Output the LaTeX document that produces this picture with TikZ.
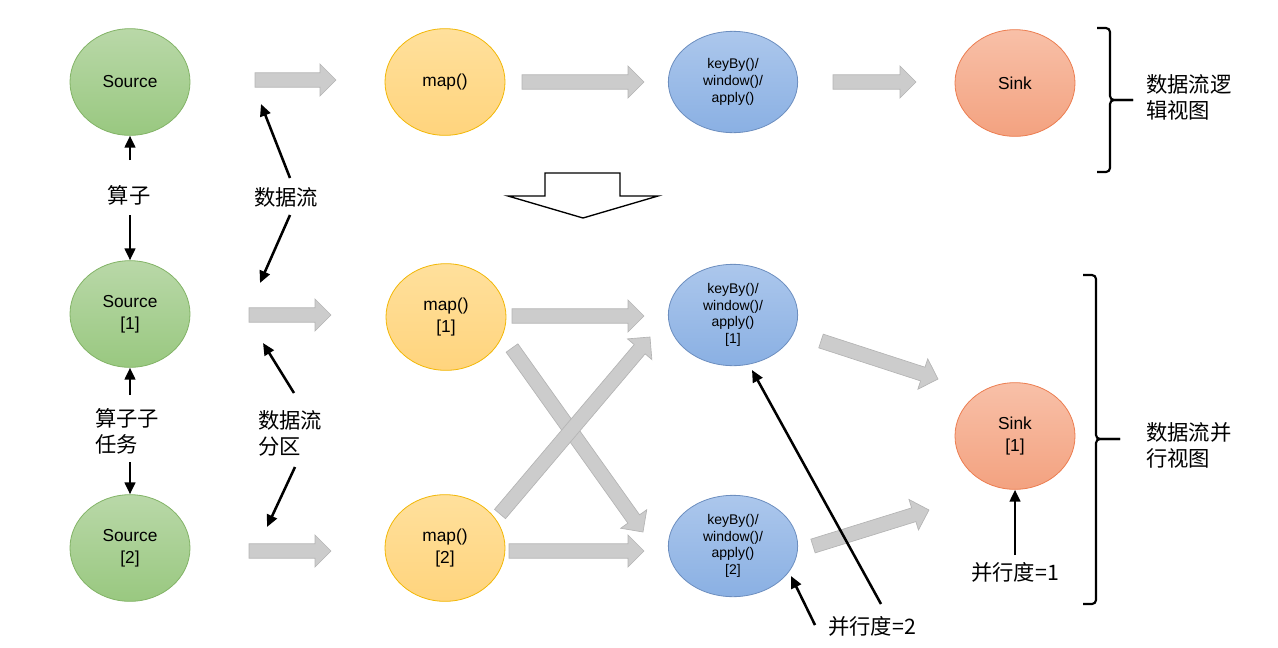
\documentclass[tikz,border=0pt]{standalone}
\usepackage{fontspec}
\setmainfont{Liberation Sans}
\newfontfamily\cjk{Noto Sans CJK SC}
\usetikzlibrary{shapes.geometric,arrows.meta,calc}
\definecolor{grnT}{RGB}{185,216,168}
\definecolor{grnB}{RGB}{153,200,128}
\definecolor{grnD}{RGB}{130,179,102}
\definecolor{orgT}{RGB}{255,224,156}
\definecolor{orgB}{RGB}{255,212,125}
\definecolor{orgD}{RGB}{242,183,5}
\definecolor{bluT}{RGB}{172,199,236}
\definecolor{bluB}{RGB}{138,176,227}
\definecolor{bluD}{RGB}{108,142,191}
\definecolor{snkT}{RGB}{248,192,168}
\definecolor{snkB}{RGB}{243,162,128}
\definecolor{snkD}{RGB}{236,125,80}
\definecolor{fatF}{RGB}{204,204,204}
\definecolor{fatD}{RGB}{180,180,180}
\newcommand{\fatarr}[2]{%
  \coordinate (hb) at ($(#2)!12pt!(#1)$);
  \filldraw[fat] ($(#1)!5.4pt!90:(#2)$) -- ($(hb)!5.4pt!-90:(#1)$) -- ($(hb)!12pt!-90:(#1)$) -- (#2)
    -- ($(hb)!12pt!90:(#1)$) -- ($(hb)!5.4pt!90:(#1)$) -- ($(#1)!5.4pt!-90:(#2)$) -- cycle;}
\tikzset{
  oval/.style={ellipse, draw, line width=0.6pt, inner sep=0pt, minimum width=90pt, minimum height=80pt, align=center, font=\fontsize{13pt}{16.5pt}\selectfont},
  srcnode/.style={oval, draw=grnD, top color=grnT, bottom color=grnB},
  mapnode/.style={oval, draw=orgD, top color=orgT, bottom color=orgB},
  keynode/.style={oval, draw=bluD, top color=bluT, bottom color=bluB, minimum width=97pt, minimum height=76pt, font=\fontsize{10.5pt}{12.5pt}\selectfont},
  sinknode/.style={oval, draw=snkD, top color=snkT, bottom color=snkB},
  fat/.style={fill=fatF, draw=fatD, line width=0.5pt},
  lbl/.style={font=\cjk\fontsize{16pt}{19.5pt}\selectfont, align=left, inner sep=0pt},
  blk/.style={line width=1.9pt, -{Triangle[length=9pt,width=8pt]}},
  bracestyle/.style={line width=1.6pt, rounded corners=3pt},
}
\begin{document}
\begin{tikzpicture}[x=0.75pt, y=-0.75pt]
\useasboundingbox (0,0) rectangle (1278,647);

% top row
\node[srcnode] (s0) at (130,82) {Source};
\node[mapnode] (m0) at (445,82) {map()};
\node[keynode] (k0) at (733,82) {keyBy()/\\window()/\\apply()};
\node[sinknode] (t0) at (1015,83) {Sink};

% parallel
\node[srcnode] (s1) at (130,314) {Source\\{[1]}};
\node[srcnode] (s2) at (130,548) {Source\\{[2]}};
\node[mapnode] (m1) at (446,317) {map()\\{[1]}};
\node[mapnode] (m2) at (445,548) {map()\\{[2]}};
\node[keynode] (k1) at (733,315) {keyBy()/\\window()/\\apply()\\{[1]}};
\node[keynode] (k2) at (733,546) {keyBy()/\\window()/\\apply()\\{[2]}};
\node[sinknode] (t1) at (1015,436) {Sink\\{[1]}};

% fat arrows
\coordinate (a1s) at (255,80); \coordinate (a1e) at (336,80);
\coordinate (a2s) at (522,82); \coordinate (a2e) at (644,82);
\coordinate (a3s) at (833,82); \coordinate (a3e) at (916,82);
\coordinate (b1s) at (249,315); \coordinate (b1e) at (331,315);
\coordinate (b2s) at (512,316); \coordinate (b2e) at (644,316);
\coordinate (b3s) at (249,551); \coordinate (b3e) at (331,551);
\coordinate (b4s) at (509,551); \coordinate (b4e) at (644,551);
\coordinate (c1s) at (512,348); \coordinate (c1e) at (643,532);
\coordinate (c2s) at (500,514); \coordinate (c2e) at (650,337);
\coordinate (d1s) at (821,341); \coordinate (d1e) at (938,379);
\coordinate (d2s) at (813,546); \coordinate (d2e) at (929,510);
\fatarr{a1s}{a1e}
\fatarr{a2s}{a2e}
\fatarr{a3s}{a3e}
\fatarr{b1s}{b1e}
\fatarr{b2s}{b2e}
\fatarr{b3s}{b3e}
\fatarr{b4s}{b4e}
\fatarr{c1s}{c1e}
\fatarr{c2s}{c2e}
\fatarr{d1s}{d1e}
\fatarr{d2s}{d2e}

% hollow down arrow
\draw[line width=1pt, fill=white] (545,173) -- (620,173) -- (620,196) -- (658,196) -- (583,218) -- (508,196) -- (545,196) -- cycle;

% labels
\node[lbl] (op) at (129,195) {算子};
\node[lbl] (df) at (286,197) {数据流};
\node[lbl, anchor=west] (ost) at (95,431) {算子子\\任务};
\node[lbl, anchor=west] (dfp) at (258,433) {数据流\\分区};
\node[lbl] (p2) at (872,626) {并行度=2};
\node[lbl] (p1) at (1015,572) {并行度=1};
\node[lbl, anchor=west] (lv) at (1146,97) {数据流逻\\辑视图};
\node[lbl, anchor=west] (pv) at (1146,445) {数据流并\\行视图};

% black arrows
\coordinate (e1) at (130,160); \coordinate (e2) at (130,215);
\draw[blk] (e1) -- (s0.south);
\draw[blk] (e2) -- (s1.north);
\coordinate (f1) at (290,178); \coordinate (f1t) at (261,104);
\coordinate (f2) at (290,215); \coordinate (f2t) at (260,283);
\draw[blk] (f1) -- (f1t);
\draw[blk] (f2) -- (f2t);
\coordinate (g1) at (130,395); \coordinate (g2) at (130,462);
\draw[blk] (g1) -- (s1.south);
\draw[blk] (g2) -- (s2.north);
\coordinate (h1) at (294,393); \coordinate (h1t) at (263,343);
\coordinate (h2) at (295,467); \coordinate (h2t) at (267,527);
\draw[blk] (h1) -- (h1t);
\draw[blk] (h2) -- (h2t);
\coordinate (p2a) at (881,604); \coordinate (p2b) at (815,625);
\coordinate (k1t) at (752,370); \coordinate (k2t) at (791,576);
\draw[blk] (p2a) -- (k1t);
\draw[blk] (p2b) -- (k2t);
\coordinate (p1a) at (1015,555);
\draw[blk] (p1a) -- (t1.south);

% braces
\draw[bracestyle] (1097,28) -- (1110,28) -- (1110,100) -- (1133,100);
\draw[bracestyle] (1097,172) -- (1110,172) -- (1110,100) -- (1133,100);
\draw[bracestyle] (1083,275) -- (1096,275) -- (1096,439) -- (1120,439);
\draw[bracestyle] (1083,604) -- (1096,604) -- (1096,439) -- (1120,439);
\end{tikzpicture}
\end{document}
